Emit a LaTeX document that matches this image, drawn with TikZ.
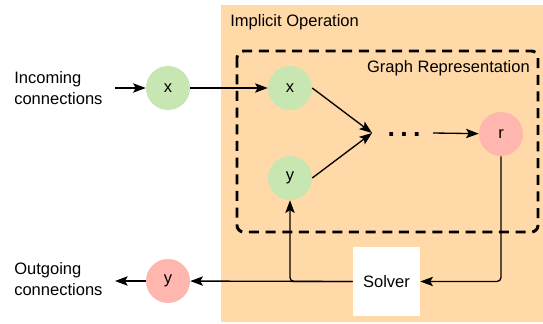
\documentclass[tikz,border=0pt]{standalone}
\usepackage{fontspec}
\setmainfont{Liberation Sans}
\usetikzlibrary{arrows.meta}
\definecolor{orangebg}{HTML}{FFDAA8}
\definecolor{greenc}{HTML}{C7E6B1}
\definecolor{pinkc}{HTML}{FFB6AE}
\tikzset{
  txt/.style={font=\fontsize{12.4}{15.8}\selectfont, inner sep=0pt},
  circ/.style={circle, minimum size=33pt, inner sep=0pt, font=\fontsize{12.4}{14}\selectfont},
  gnode/.style={circ, fill=greenc},
  pnode/.style={circ, fill=pinkc},
  arr/.style={line width=1pt, -{Stealth[length=9.5pt, width=7pt, inset=2pt]}},
}
\begin{document}
\begin{tikzpicture}[x=0.75pt, y=-0.75pt]
\useasboundingbox (0,0) rectangle (543,324);
% orange background
\fill[orangebg] (221,5) rectangle (543,322);
\node[txt, anchor=west] (implicit) at (230,22) {Implicit Operation};
% dashed graph box
\draw[line width=2.2pt, dash pattern=on 7.5pt off 5pt, rounded corners=5pt] (237,51) rectangle (538,232);
\node[txt, anchor=east] (graphrep) at (530,68) {Graph Representation};
% texts
\node[txt, anchor=west, align=left] (incoming) at (14,88) {Incoming\\connections};
\node[txt, anchor=west, align=left] (outgoing) at (14,279) {Outgoing\\connections};
% nodes
\node[gnode] (xo) at (168,88) {x};
\node[gnode] (xi) at (290,88) {x};
\node[gnode] (yi) at (290,178) {y};
\node[pnode] (r) at (501,134) {r};
\node[pnode] (yo) at (168,281) {y};
\node[fill=white, minimum width=50.25pt, minimum height=51.75pt, inner sep=0pt, txt] (solver) at (386.5,281.5) {Solver};
\node[anchor=base, inner sep=0pt, font=\bfseries\fontsize{20}{20}\selectfont] (dots) at (404,136.5) {.\kern4pt.\kern4pt.};
% coordinates
\coordinate (in) at (115,88);
\coordinate (m) at (372,133);
\coordinate (ds) at (433,133);
\coordinate (out) at (115,281);
% connectors
\draw[arr] (in) -- (xo);
\draw[arr] (xo) -- (xi);
\draw[arr] (xi.east) -- (m);
\draw[arr] (yi.east) -- (m);
\draw[arr] (ds) -- (r);
\draw[arr, rounded corners=3pt] (r.south) |- (solver.east);
\draw[arr] (solver.west) -- (yo);
\draw[arr, rounded corners=3pt] (solver.west) -| (yi.south);
\draw[arr] (yo) -- (out);
\end{tikzpicture}
\end{document}
